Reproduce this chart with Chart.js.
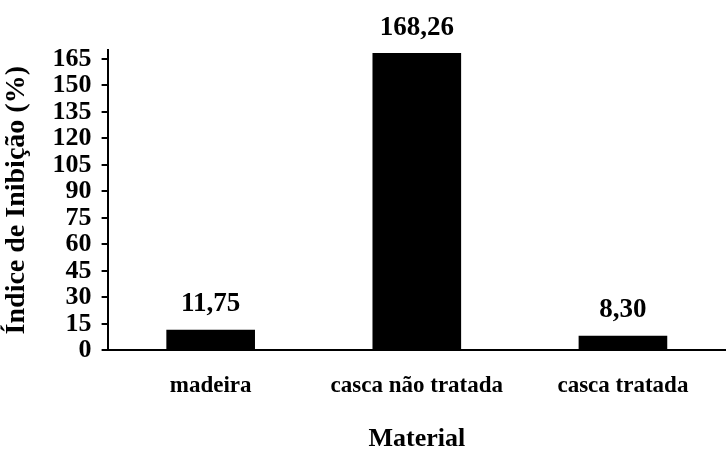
<!DOCTYPE html>
<html>
<head>
<meta charset="utf-8">
<script src="https://cdn.jsdelivr.net/npm/chart.js@4/dist/chart.umd.min.js"></script>
<style>
  html, body { margin: 0; padding: 0; background: #fff; }
  #wrap { width: 726px; height: 452px; }
</style>
</head>
<body>
<div id="wrap"><canvas id="chart" width="726" height="452"></canvas></div>
<script>
// data
const materials = ['madeira', 'casca não tratada', 'casca tratada'];
const inhibition = [11.75, 168.26, 8.30];
const valueLabels = ['11,75', '168,26', '8,30'];
const yTicks = [0, 15, 30, 45, 60, 75, 90, 105, 120, 135, 150, 165];

const serif = '"Liberation Serif", "Times New Roman", serif';

// value printed above each bar
const barValues = {
    id: 'barValues',
    afterDatasetsDraw(chart) {
        const ctx = chart.ctx;
        const bars = chart.getDatasetMeta(0).data;
        ctx.save();
        ctx.fillStyle = '#000';
        ctx.font = 'bold 27px ' + serif;
        ctx.textAlign = 'center';
        ctx.textBaseline = 'bottom';
        bars.forEach((bar, i) => {
            ctx.fillText(valueLabels[i], bar.x, bar.y - 12);
        });
        ctx.restore();
    }
};

const ctx = document.getElementById('chart').getContext('2d');
new Chart(ctx, {
    type: 'bar',
    data: {
        labels: materials,
        datasets: [{
            data: inhibition,
            backgroundColor: '#000',
            borderWidth: 0,
            barPercentage: 0.43,
            categoryPercentage: 1
        }]
    },
    options: {
        responsive: false,
        animation: false,
        layout: { padding: { top: 50, left: 0, right: 0, bottom: 0 } },
        plugins: {
            legend: { display: false },
            tooltip: { enabled: false }
        },
        scales: {
            x: {
                border: { color: '#000', width: 2 },
                grid: { display: false },
                ticks: {
                    color: '#000',
                    padding: 14,
                    autoSkip: false,
                    maxRotation: 0,
                    font: { family: serif, size: 23, weight: 'bold' }
                },
                title: {
                    display: true,
                    text: 'Material',
                    color: '#000',
                    padding: { top: 12, bottom: 0 },
                    font: { family: serif, size: 26, weight: 'bold', lineHeight: 1 }
                }
            },
            y: {
                min: 0,
                max: 170,
                afterBuildTicks(scale) {
                    scale.ticks = yTicks.map(v => ({ value: v }));
                },
                border: { color: '#000', width: 2 },
                grid: {
                    drawOnChartArea: false,
                    color: '#000',
                    tickLength: 6,
                    lineWidth: 2
                },
                ticks: {
                    color: '#000',
                    padding: 10,
                    autoSkip: false,
                    font: { family: serif, size: 26, weight: 'bold' }
                },
                title: {
                    display: true,
                    text: 'Índice de Inibição (%)',
                    color: '#000',
                    padding: { top: 0, bottom: 9 },
                    font: { family: serif, size: 28, weight: 'bold' }
                }
            }
        }
    },
    plugins: [barValues]
});
</script>
</body>
</html>
